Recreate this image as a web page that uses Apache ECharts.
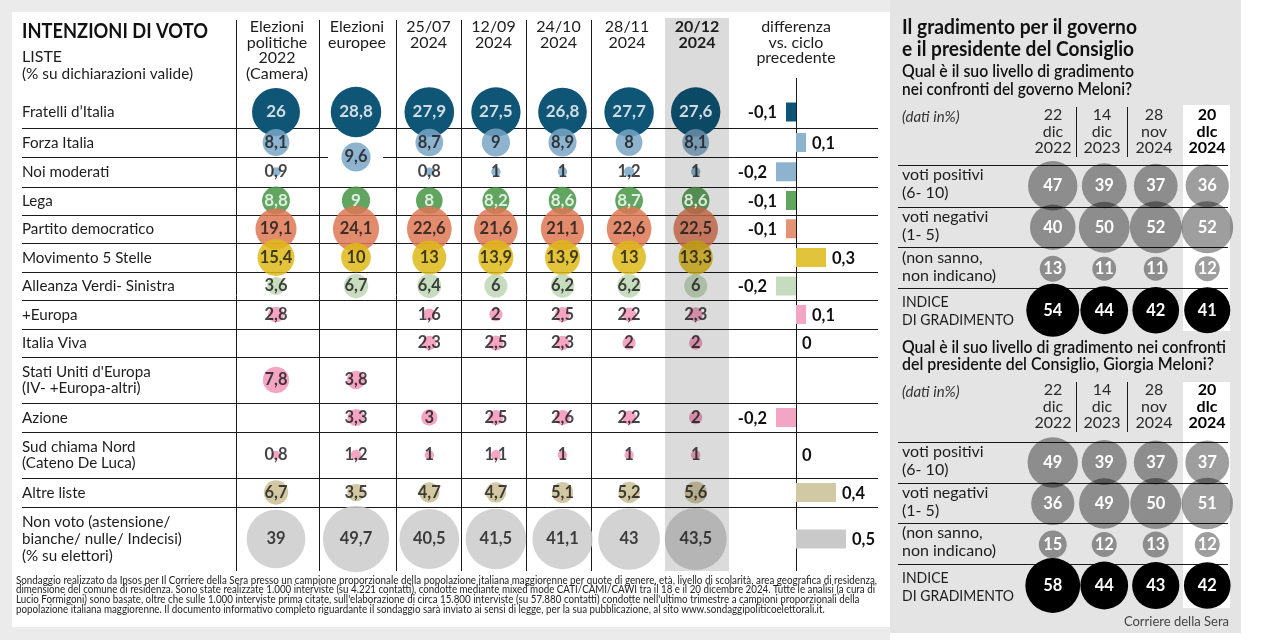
<!DOCTYPE html>
<html><head><meta charset="utf-8">
<script src="https://cdn.jsdelivr.net/npm/echarts@6/dist/echarts.min.js"></script>
<style>html,body{margin:0;padding:0;background:#fff}#c{width:1275px;height:640px}</style>
</head><body><div id="c"></div>
<script>
// ================= DATA =================
const parties = ["Fratelli d’Italia","Forza Italia","Noi moderati","Lega","Partito democratico","Movimento 5 Stelle","Alleanza Verdi- Sinistra","+Europa","Italia Viva","Stati Uniti d'Europa\n(IV- +Europa-altri)","Azione","Sud chiama Nord\n(Cateno De Luca)","Altre liste","Non voto (astensione/\nbianche/ nulle/ Indecisi)\n(% su elettori)"];
const electionCols = ["Elezioni\npolitiche\n2022\n(Camera)", "Elezioni\neuropee"];
const pollCols = ["25/07\n2024","12/09\n2024","24/10\n2024","28/11\n2024","20/12\n2024"];
const diffHeader = "differenza\nvs. ciclo\nprecedente";

const politiche2022 = [26, 8.1, 0.9, 8.8, 19.1, 15.4, 3.6, 2.8, null, 7.8, null, 0.8, 6.7, 39];
const europee2024   = [28.8, 9.6, null, 9, 24.1, 10, 6.7, null, null, 3.8, 3.3, 1.2, 3.5, 49.7];
const europeeJointRows = [1, 2]; // Forza Italia + Noi moderati: one joint list
const poll_25_07 = [27.9, 8.7, 0.8, 8, 22.6, 13, 6.4, 1.6, 2.3, null, 3, 1, 4.7, 40.5];
const poll_12_09 = [27.5, 9, 1, 8.2, 21.6, 13.9, 6, 2, 2.5, null, 2.5, 1.1, 4.7, 41.5];
const poll_24_10 = [26.8, 8.9, 1, 8.6, 21.1, 13.9, 6.2, 2.5, 2.3, null, 2.6, 1, 5.1, 41.1];
const poll_28_11 = [27.7, 8, 1.2, 8.7, 22.6, 13, 6.2, 2.2, 2, null, 2.2, 1, 5.2, 43];
const poll_20_12 = [27.6, 8.1, 1, 8.6, 22.5, 13.3, 6, 2.3, 2, null, 2, 1, 5.6, 43.5];
const diffVsPrevious = [-0.1, 0.1, -0.2, -0.1, -0.1, 0.3, -0.2, 0.1, 0, null, -0.2, 0, 0.4, 0.5];

const approvalDates = ["22\ndic\n2022","14\ndic\n2023","28\nnov\n2024","20\ndlc\n2024"];
const approvalRows = ["voti positivi\n(6- 10)","voti negativi\n(1- 5)","(non sanno,\nnon indicano)","INDICE\nDI GRADIMENTO"];
const govPositive = [47, 39, 37, 36];
const govNegative = [40, 50, 52, 52];
const govUnsure   = [13, 11, 11, 12];
const govIndex    = [54, 44, 42, 41];
const pmPositive  = [49, 39, 37, 37];
const pmNegative  = [36, 49, 50, 51];
const pmUnsure    = [15, 12, 13, 12];
const pmIndex     = [58, 44, 43, 42];

const titleLeft = ["INTENZIONI DI VOTO", "LISTE", "(% su dichiarazioni valide)"];
const titleRight = ["Il gradimento per il governo", "e il presidente del Consiglio"];
const question1 = ["Qual è il suo livello di gradimento", "nei confronti del governo Meloni?"];
const question2 = ["Qual è il suo livello di gradimento nei confronti", "del presidente del Consiglio, Giorgia Meloni?"];
const unitNote = "(dati in%)";
const source = "Corriere della Sera";
const footnote = [
 "Sondaggio realizzato da Ipsos per Il Corriere della Sera presso un campione proporzionale della popolazione italiana maggiorenne per quote di genere, età, livello di scolarità, area geografica di residenza,",
 "dimensione del comune di residenza. Sono state realizzate 1.000 interviste (su 4.221 contatti), condotte mediante mixed mode CATI/CAMI/CAWI tra il 18 e il 20 dicembre 2024. Tutte le analisi (a cura di",
 "Lucio Formigoni) sono basate, oltre che sulle 1.000 interviste prima citate, sull'elaborazione di circa 15.800 interviste (su 57.880 contatti) condotte nell'ultimo trimestre a campioni proporzionali della",
 "popolazione italiana maggiorenne. Il documento informativo completo riguardante il sondaggio sarà inviato ai sensi di legge, per la sua pubblicazione, al sito www.sondaggipoliticoelettorali.it."
];

// ================= STYLE / LAYOUT =================
const FONT = 'Lato, "Noto Sans", sans-serif';
const partyColors = ["#0f5576","#8db3cf","#8db3cf","#62a560","#e38b6d","#e2c33b","#c8dcc0","#f3a5c2","#f3a5c2","#f3a5c2","#f3a5c2","#f3a5c2","#d2c9a4","#d3d3d3"];
const barColors   = ["#0f5576","#8db3cf","#8db3cf","#62a560","#e49377","#e2c43c","#c6dcbf","#f3a6c3","#f3a6c3","#f3a6c3","#f3a6c3","#f3a6c3","#d1c9a4","#c9c9c9"];
const whiteLabelRows = [0, 3];
const rowTop = 96;
const rowH = [32,29,29.5,28,28.5,29,28,29,28,46,29,46,29,64];
const rowStart = []; let acc = 0; rowH.forEach(h => { rowStart.push(acc); acc += h; });
const tableH = acc;
const rowCenter = rowH.map((h,i) => rowStart[i] + h/2);
const bubbleK = 9.4, bubbleK2 = 7.2;

function fmt(v){ return String(v).replace('.', ','); }
function under(hex, a){
  const n = parseInt(hex.slice(1),16);
  const c = [n>>16&255, n>>8&255, n&255].map(v => Math.max(0, Math.min(255, Math.round((v - 255*(1-a))/a))));
  return 'rgb(' + c.join(',') + ')';
}
const mctx = document.createElement('canvas').getContext('2d');
function measure(text, size, weight, style){ mctx.font = (style||'normal') + ' ' + (weight||'normal') + ' ' + size + 'px Lato'; return mctx.measureText(text).width; }

function txt(text, x, y, o){
  o = o || {};
  const el = {type:'text', z:o.z||20, silent:true, x:x, y:y,
    style:{text:text, x:0, y:0, fill:o.color||'#1d1d1d', fontSize:o.size||16, fontWeight:o.weight||'normal',
      fontStyle:o.style||'normal', fontFamily:FONT, textAlign:o.align||'left', align:o.align||'left',
      textVerticalAlign:'middle', verticalAlign:'middle'}};
  if (o.fit) { el.scaleX = o.fit / measure(text, o.size||16, o.weight, o.style); el.originX = 0; el.originY = 0; }
  if (o.scale) { el.scaleX = o.scale; el.originX = 0; el.originY = 0; }
  return el;
}
function lines(text, x, y0, lh, o){ return text.split('\n').map((t,i) => txt(t, x, y0 + i*lh, o)); }
function hl(x1,x2,y,o){ o=o||{}; return {type:'line', z:o.z||1, silent:true, shape:{x1:x1,y1:y+0.5,x2:x2,y2:y+0.5}, style:{stroke:o.color||'#1a1a1a', lineWidth:1}}; }
function vl(x,y1,y2,o){ o=o||{}; return {type:'line', z:o.z||1, silent:true, shape:{x1:x+0.5,y1:y1,x2:x+0.5,y2:y2}, style:{stroke:o.color||'#1a1a1a', lineWidth:1}}; }
function rect(x,y,w,h,fill,z){ return {type:'rect', z:z, silent:true, shape:{x:x,y:y,width:w,height:h}, style:{fill:fill}}; }

// ================= SERIES DATA =================
function bubbleItems(columns){
  const b = [], l = [];
  columns.forEach((arr, c) => {
    arr.forEach((v, r) => {
      if (v == null) return;
      let y = rowCenter[r];
      if (arr === europee2024 && r === europeeJointRows[0]) y = rowStart[europeeJointRows[1]];
      const a = r === 0 ? 1 : 0.85;
      b.push({value:[c, y, v], itemStyle:{color: under(partyColors[r], a), opacity:a}});
      const white = whiteLabelRows.includes(r);
      l.push({value:[c, y, v], label:{color: white ? '#ffffff' : '#151515', fontWeight: 'bold', fontSize: white ? 17 : 16.5}});
    });
  });
  return {b, l};
}
const el = bubbleItems([politiche2022, europee2024]);
const pl = bubbleItems([poll_25_07, poll_12_09, poll_24_10, poll_28_11, poll_20_12]);
const diffData = [];
diffVsPrevious.forEach((v, r) => { if (v != null) diffData.push([v, rowCenter[r], r]); });
function approvalItems(rows){
  const out = [];
  rows.forEach((arr, r) => arr.forEach((v, c) => out.push({value:[c, r, v], itemStyle:{color: r === 3 ? '#000000' : 'rgba(0,0,0,0.38)', opacity:1}})));
  return out;
}
const govData = approvalItems([govPositive, govNegative, govUnsure, govIndex]);
const pmData = approvalItems([pmPositive, pmNegative, pmUnsure, pmIndex]);

// ================= GRAPHICS =================
const G = [];
G.push(rect(0,0,890,640,'#ebebeb',-10));
G.push(rect(890,0,351,633,'#e4e4e4',-10));
G.push(rect(12,12,878,615,'#ffffff',-9));
G.push(rect(1183,105,47,226,'#ffffff',-5));
G.push(rect(1183,382,47,226,'#ffffff',-5));
G.push(rect(665,18,64,553,'rgba(0,0,0,0.14)',5));

// left titles
G.push(txt(titleLeft[0], 22, 32, {size:20, weight:'bold', fit:186, color:'#111'}));
G.push(txt(titleLeft[1], 22, 57, {size:16}));
G.push(txt(titleLeft[2], 22, 74, {size:16, fit:171}));
// column headers
const electionX = [277, 357], pollX = [428.5, 493.5, 558.5, 627, 697];
electionCols.forEach((t,i) => G.push(...lines(t, electionX[i], 27, 15.5, {align:'center', size:16})));
pollCols.forEach((t,i) => G.push(...lines(t, pollX[i], 27, 15.5, {align:'center', size:16, weight: i === 4 ? 'bold' : 'normal'})));
G.push(...lines(diffHeader, 796, 27, 15.5, {align:'center', size:16}));
// row labels
const rowLabelScale = 132 / measure("Partito democratico", 16);
parties.forEach((p, r) => {
  const n = p.split('\n').length;
  const lh = n === 3 ? 17 : 16;
  G.push(...lines(p, 22, rowTop + rowCenter[r] - (n-1)*lh/2, lh, {size:16, scale:rowLabelScale}));
});
// horizontal lines
for (let r = 1; r < rowH.length; r++) {
  const y = Math.round(rowTop + rowStart[r]);
  if (r === europeeJointRows[1]) { G.push(hl(22, 328, y)); G.push(hl(383, 878, y)); }
  else G.push(hl(22, 878, y));
}
// vertical lines
[236, 319, 396, 461, 526, 591].forEach(x => G.push(vl(x, 20, rowTop + tableH)));
G.push(vl(796, 78, rowTop + tableH));
// footnote
const FS = 11;
const fs1 = 861 / measure(footnote[0], FS), fs2 = 859 / measure(footnote[1], FS);
const fsAvg = (fs1 + fs2) / 2;
footnote.forEach((t,i) => G.push(txt(t, 16, 580 + i*9.8, {size:FS, color:'#222', scale: i===0?fs1:(i===1?fs2:fsAvg)})));

// right panel titles
G.push(txt(titleRight[0], 902, 28, {size:20, weight:'bold', fit:235, color:'#111'}));
G.push(txt(titleRight[1], 902, 50, {size:20, weight:'bold', fit:232, color:'#111'}));
G.push(txt(question1[0], 902, 72, {size:17, weight:600, fit:232, color:'#111'}));
G.push(txt(question1[1], 902, 90, {size:17, weight:600, fit:230, color:'#111'}));
G.push(txt(question2[0], 902, 348, {size:17, weight:600, fit:324, color:'#111'}));
G.push(txt(question2[1], 902, 365, {size:17, weight:600, fit:312, color:'#111'}));
const colX = [1053, 1102, 1154, 1207];
const rightLabelScale = 94 / measure("non indicano)", 16);
const rightUpperScale = 112 / measure("DI GRADIMENTO", 16);
function approvalPanel(headY, rowLines, labelOff){
  G.push(txt(unitNote, 902, headY + 2, {size:15, style:'italic', color:'#333'}));
  approvalDates.forEach((d,i) => G.push(...lines(d, colX[i], headY, 16.5, {align:'center', size:16, weight: i===3?'bold':'normal', color: i===3?'#000':'#2a2a2a'})));
  G.push(vl(1076, headY - 8, headY + 42));
  G.push(vl(1127, headY - 8, headY + 42));
  rowLines.forEach(y => G.push(hl(898, 1228, y)));
  approvalRows.forEach((t, r) => t.split('\n').forEach((ln, k) => {
    const upper = ln === ln.toUpperCase() && /[A-Z]/.test(ln);
    G.push(txt(ln, 902, rowLines[r] + labelOff[r] + k*17.5, {size:16, color:'#1d1d1d', scale: upper ? rightUpperScale : rightLabelScale}));
  }));
}
approvalPanel(115, [165, 207, 247, 288], [10, 10, 11, 14]);
approvalPanel(390, [442, 483, 523, 564], [10, 10, 10, 14]);
G.push(txt(source, 1229, 622, {size:13, align:'right', color:'#444'}));

// ================= OPTION =================
const option = {
  animation:false,
  backgroundColor:'#ffffff',
  grid:[
    {left:236, width:160, top:rowTop, height:tableH},
    {left:396, width:333, top:rowTop, height:tableH},
    {left:746, width:130, top:rowTop, height:tableH},
    {left:1027, width:206, top:165, height:166},
    {left:1027, width:206, top:442, height:164}
  ],
  xAxis:[
    {gridIndex:0, type:'category', data:electionCols, show:false},
    {gridIndex:1, type:'category', data:pollCols, show:false},
    {gridIndex:2, type:'value', min:-0.5, max:0.8, show:false},
    {gridIndex:3, type:'category', data:approvalDates, show:false},
    {gridIndex:4, type:'category', data:approvalDates, show:false}
  ],
  yAxis:[
    {gridIndex:0, type:'value', min:0, max:tableH, inverse:true, show:false},
    {gridIndex:1, type:'value', min:0, max:tableH, inverse:true, show:false},
    {gridIndex:2, type:'value', min:0, max:tableH, inverse:true, show:false},
    {gridIndex:3, type:'category', data:approvalRows, inverse:true, show:false},
    {gridIndex:4, type:'category', data:approvalRows, inverse:true, show:false}
  ],
  graphic:{elements:G},
  series:[
    {type:'scatter', xAxisIndex:0, yAxisIndex:0, z:2, silent:true, clip:false, data:el.b, symbolSize:v => bubbleK*Math.sqrt(v[2])},
    {type:'scatter', xAxisIndex:1, yAxisIndex:1, z:2, silent:true, clip:false, data:pl.b, symbolSize:v => bubbleK*Math.sqrt(v[2])},
    {type:'scatter', xAxisIndex:0, yAxisIndex:0, z:10, silent:true, clip:false, data:el.l, symbolSize:0,
      label:{show:true, position:'inside', fontSize:16, fontFamily:FONT, formatter:p => fmt(p.value[2])}},
    {type:'scatter', xAxisIndex:1, yAxisIndex:1, z:10, silent:true, clip:false, data:pl.l, symbolSize:0,
      label:{show:true, position:'inside', fontSize:16, fontFamily:FONT, formatter:p => fmt(p.value[2])}},
    {type:'custom', xAxisIndex:2, yAxisIndex:2, z:3, silent:true, clip:false, data:diffData,
      renderItem:function(params, api){
        const v = api.value(0), y = api.value(1), r = api.value(2);
        const p0 = api.coord([0, y]), p1 = api.coord([v, y]);
        const h = 19, x0 = Math.min(p0[0], p1[0]), w = Math.abs(p1[0] - p0[0]);
        const neg = v < 0;
        return {type:'group', children:[
          {type:'rect', shape:{x:x0, y:p0[1] - h/2, width:w, height:h}, style:{fill:barColors[r]}},
          {type:'text', style:{text:fmt(v), x: neg ? x0 - 9 : x0 + w + 6, y:p0[1] + 1, align: neg ? 'right' : 'left', textAlign: neg ? 'right' : 'left', verticalAlign:'middle', textVerticalAlign:'middle', fontSize:16.5, fontWeight:'bold', fontFamily:FONT, fill:'#111'}}
        ]};
      }},
    {type:'scatter', xAxisIndex:3, yAxisIndex:3, z:4, silent:true, clip:false, data:govData, symbolSize:v => bubbleK2*Math.sqrt(v[2]),
      label:{show:true, position:'inside', color:'#fff', fontWeight:'bold', fontSize:16.5, fontFamily:FONT, formatter:p => fmt(p.value[2])}},
    {type:'scatter', xAxisIndex:4, yAxisIndex:4, z:4, silent:true, clip:false, data:pmData, symbolSize:v => bubbleK2*Math.sqrt(v[2]),
      label:{show:true, position:'inside', color:'#fff', fontWeight:'bold', fontSize:16.5, fontFamily:FONT, formatter:p => fmt(p.value[2])}}
  ]
};
const chart = echarts.init(document.getElementById('c'), null, {renderer:'canvas', width:1275, height:640});
chart.setOption(option);
</script>
</body></html>
